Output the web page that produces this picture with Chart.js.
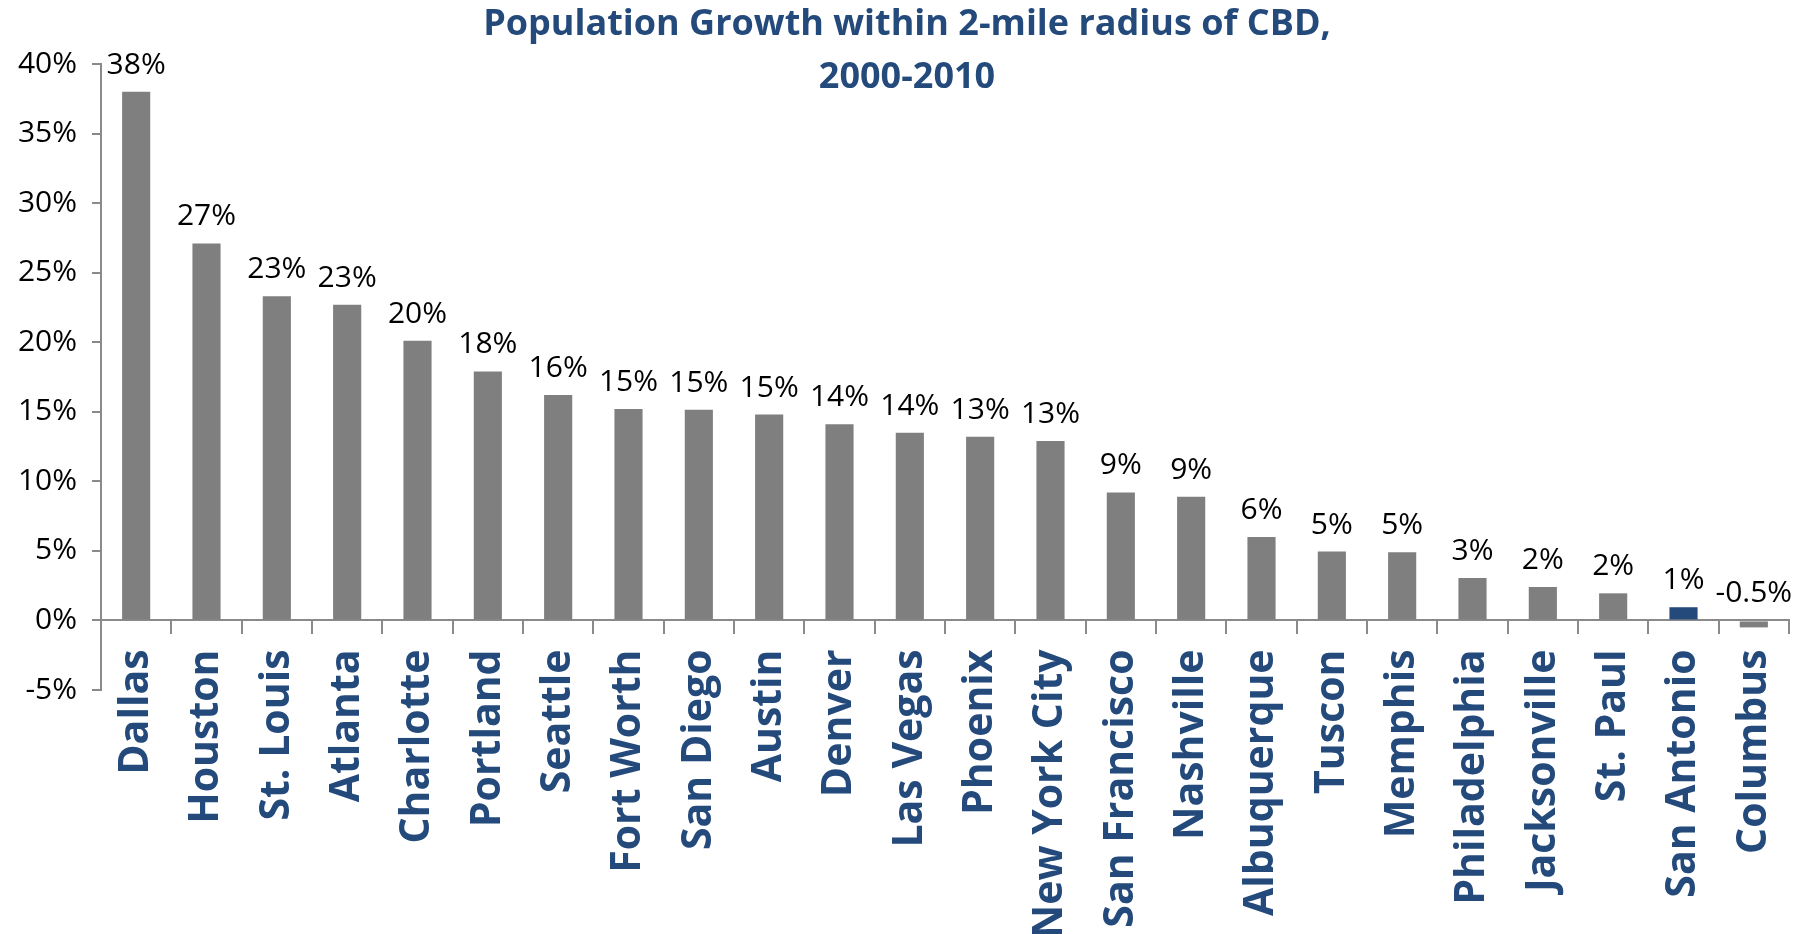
<!DOCTYPE html>
<html>
<head>
<meta charset="utf-8">
<title>Population Growth within 2-mile radius of CBD</title>
<script src="https://cdn.jsdelivr.net/npm/chart.js@4.4.1/dist/chart.umd.min.js"></script>
<style>
  html, body { margin: 0; padding: 0; background: #fff; }
  #wrap { width: 1811px; height: 934px; position: relative; }
</style>
</head>
<body>
<div id="wrap"><canvas id="chartGrowth"></canvas></div>
<script>
/* =========================
   DATA
========================= */

const titleLines = ["Population Growth within 2-mile radius of CBD,", "2000-2010"];

const cities = [
  "Dallas", "Houston", "St. Louis", "Atlanta", "Charlotte", "Portland",
  "Seattle", "Fort Worth", "San Diego", "Austin", "Denver", "Las Vegas",
  "Phoenix", "New York City", "San Francisco", "Nashville", "Albuquerque",
  "Tuscon", "Memphis", "Philadelphia", "Jacksonville", "St. Paul",
  "San Antonio", "Columbus"
];

const growth = [
  38.0, 27.1, 23.3, 22.7, 20.1, 17.9,
  16.2, 15.2, 15.15, 14.8, 14.1, 13.5,
  13.2, 12.9, 9.2, 8.9, 6.0,
  4.95, 4.9, 3.05, 2.4, 1.95,
  0.95, -0.5
];

const growthLabels = [
  "38%", "27%", "23%", "23%", "20%", "18%",
  "16%", "15%", "15%", "15%", "14%", "14%",
  "13%", "13%", "9%", "9%", "6%",
  "5%", "5%", "3%", "2%", "2%",
  "1%", "-0.5%"
];

const yMin = -5;
const yMax = 40;
const yStep = 5;

const highlightCity = "San Antonio";

/* =========================
   STYLE
========================= */

const BLUE = "#244A7C";
const GREY = "#7F7F7F";
const AXIS = "#8A8A8A";

/* =========================
   PLUGINS
========================= */

// title drawn over the plot (it overlaps the top of the y axis)
const titlePlugin = {
  id: "titleLines",
  afterDraw(chart) {
    const ctx = chart.ctx;
    ctx.save();
    ctx.fillStyle = BLUE;
    ctx.font = "bold 36px 'Open Sans'";
    ctx.textAlign = "center";
    ctx.textBaseline = "middle";
    ctx.fillText(titleLines[0], 907, 25);
    ctx.fillText(titleLines[1], 907, 78);
    ctx.restore();
  }
};

// value labels above each bar
const valueLabels = {
  id: "valueLabels",
  afterDatasetsDraw(chart) {
    const ctx = chart.ctx;
    const meta = chart.getDatasetMeta(0);
    const zeroY = chart.scales.y.getPixelForValue(0);
    ctx.save();
    ctx.fillStyle = "#000";
    ctx.font = "30px 'Open Sans'";
    ctx.textAlign = "center";
    ctx.textBaseline = "alphabetic";
    meta.data.forEach((bar, i) => {
      const top = Math.min(bar.y, zeroY);
      ctx.fillText(growthLabels[i], bar.x, top - 18);
    });
    ctx.restore();
  }
};

/* =========================
   CHART
========================= */

const canvas = document.getElementById("chartGrowth");

new Chart(canvas, {
  type: "bar",
  data: {
    labels: cities,
    datasets: [
      {
        data: growth,
        backgroundColor: cities.map(c => (c === highlightCity ? BLUE : GREY)),
        borderWidth: 0,
        categoryPercentage: 1,
        barPercentage: 0.4
      }
    ]
  },
  options: {
    responsive: true,
    maintainAspectRatio: false,
    animation: false,
    devicePixelRatio: 1,
    layout: {
      padding: { top: 64, right: 22, bottom: 244, left: 0 }
    },
    plugins: {
      legend: { display: false },
      title: { display: false },
      tooltip: { enabled: false }
    },
    scales: {
      x: {
        position: { y: 0 },
        offset: true,
        grid: {
          offset: true,
          drawOnChartArea: false,
          drawTicks: true,
          tickLength: 13,
          color: AXIS,
          lineWidth: 2
        },
        border: { color: AXIS, width: 2 },
        ticks: {
          autoSkip: false,
          minRotation: 90,
          maxRotation: 90,
          padding: 16,
          color: BLUE,
          font: { family: "Open Sans", size: 41, weight: "bold" }
        },
        afterFit(scale) {
          scale.paddingLeft = 0;
          scale.paddingRight = 0;
        }
      },
      y: {
        min: yMin,
        max: yMax,
        grid: {
          drawOnChartArea: false,
          drawTicks: true,
          tickLength: 9,
          color: AXIS,
          lineWidth: 2
        },
        border: { color: AXIS, width: 2 },
        ticks: {
          stepSize: yStep,
          padding: 15,
          color: "#000",
          font: { family: "Open Sans", size: 30 },
          callback: v => v + "%"
        },
        afterFit(scale) {
          scale.width = 101;
        }
      }
    }
  },
  plugins: [titlePlugin, valueLabels]
});
</script>
</body>
</html>
